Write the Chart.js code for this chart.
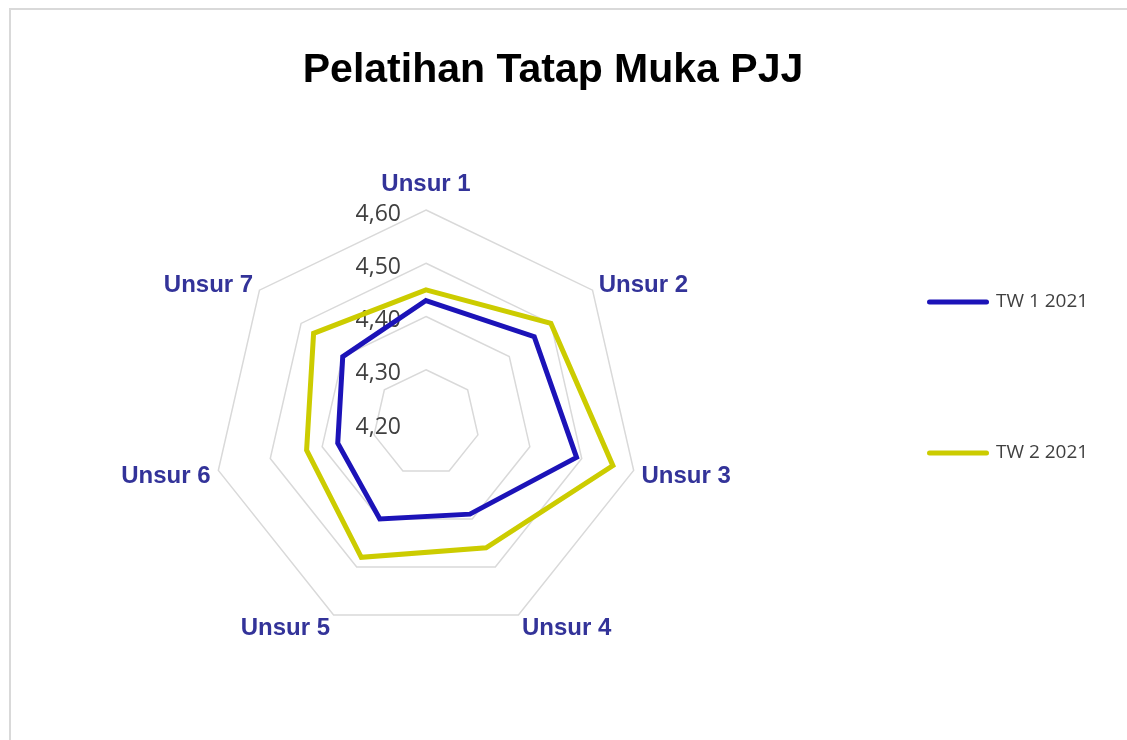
<!DOCTYPE html>
<html lang="id">
<head>
<meta charset="utf-8">
<title>Pelatihan Tatap Muka PJJ</title>
<script src="https://cdn.jsdelivr.net/npm/chart.js@4.4.1/dist/chart.umd.min.js"></script>
<style>
  html, body { margin: 0; padding: 0; background: #fff; overflow: hidden; }
  #frame { position: absolute; left: 9px; top: 8px; width: 1200px; height: 800px;
           border-left: 2px solid #d9d9d9; border-top: 2px solid #d9d9d9; }
  #chart { position: absolute; left: 0; top: 0; }
</style>
</head>
<body>
<div id="frame"></div>
<canvas id="chart" width="1127" height="740"></canvas>
<script>
"use strict";

const categories = ["Unsur 1", "Unsur 2", "Unsur 3", "Unsur 4", "Unsur 5", "Unsur 6", "Unsur 7"];
const seriesNames = ["TW 1 2021", "TW 2 2021"];
const tw1Values = [4.43, 4.46, 4.49, 4.39, 4.40, 4.37, 4.40];
const tw2Values = [4.45, 4.50, 4.56, 4.46, 4.48, 4.43, 4.47];
const tickValues = [4.2, 4.3, 4.4, 4.5, 4.6];
const tickLabels = ["4,20", "4,30", "4,40", "4,50", "4,60"];

const BLUE = "#1c13b8";
const YELLOW = "#cccc00";

// axis values left of the top spoke + category names, placed with the r scale
const radarLabels = {
    id: "radarLabels",
    beforeDatasetsDraw(chart) {
        const scale = chart.scales.r;
        const ctx = chart.ctx;
        ctx.save();

        ctx.font = "23px 'Open Sans'";
        ctx.fillStyle = "#404040";
        ctx.textAlign = "right";
        ctx.textBaseline = "middle";
        tickValues.forEach((v, i) => {
            const y = scale.yCenter - scale.getDistanceFromCenterForValue(v);
            ctx.fillText(tickLabels[i], scale.xCenter - 25, y + 4);
        });

        ctx.font = "bold 24px 'Liberation Sans', Arial, sans-serif";
        ctx.fillStyle = "#333399";
        const dist = scale.drawingArea + 8;
        categories.forEach((label, i) => {
            const p = scale.getPointPosition(i, dist);
            const dx = p.x - scale.xCenter;
            const cos = (scale.yCenter - p.y) / dist;
            ctx.textAlign = Math.abs(dx) < 1 ? "center" : (dx > 0 ? "left" : "right");
            ctx.fillText(label, p.x, p.y + (cos > 0.9 ? -18 : 3 - 4 * cos));
        });
        ctx.restore();
    }
};

const lineDataset = (label, values, color) => ({
    label: label,
    data: values,
    borderColor: color,
    backgroundColor: color,
    pointBorderColor: color,
    borderWidth: 5,
    borderJoinStyle: "miter",
    fill: false,
    pointRadius: 0,
    pointHoverRadius: 0
});

new Chart(document.getElementById("chart"), {
    type: "radar",
    data: {
        labels: categories,
        datasets: [
            lineDataset(seriesNames[0], tw1Values, BLUE),
            lineDataset(seriesNames[1], tw2Values, YELLOW)
        ]
    },
    options: {
        responsive: false,
        animation: false,
        events: [],
        layout: { padding: { left: 10.5, right: 31.5, top: 0, bottom: 104 } },
        scales: {
            r: {
                min: 4.2,
                max: 4.6,
                ticks: { display: false, stepSize: 0.1 },
                pointLabels: { display: false },
                angleLines: { display: false },
                grid: { color: "#d9d9d9", lineWidth: 1.5 }
            }
        },
        plugins: {
            title: {
                display: true,
                text: "Pelatihan Tatap Muka PJJ",
                color: "#000",
                font: { family: "'Liberation Sans', Arial, sans-serif", size: 41, weight: "bold", lineHeight: 1.2 },
                padding: { top: 46.4, bottom: 114.4 }
            },
            legend: {
                position: "right",
                align: "center",
                maxWidth: 254,
                // empty title only pushes the two entries down
                title: { display: true, text: "", font: { size: 10, lineHeight: 1 }, padding: { top: 153, bottom: 0 } },
                labels: {
                    usePointStyle: true,
                    pointStyle: "line",
                    pointStyleWidth: 57,
                    boxHeight: 19,
                    padding: 88,
                    color: "#404040",
                    font: { family: "'Open Sans'", size: 19, lineHeight: "31.5px" },
                    generateLabels(chart) {
                        const items = Chart.defaults.plugins.legend.labels.generateLabels(chart);
                        items.forEach(item => {
                            const ds = chart.data.datasets[item.datasetIndex];
                            item.text = [item.text, ""];
                            item.strokeStyle = ds.borderColor;
                            item.lineWidth = 5;
                            item.lineCap = "round";
                        });
                        return items;
                    }
                }
            },
            tooltip: { enabled: false }
        }
    },
    plugins: [radarLabels]
});
</script>
</body>
</html>
